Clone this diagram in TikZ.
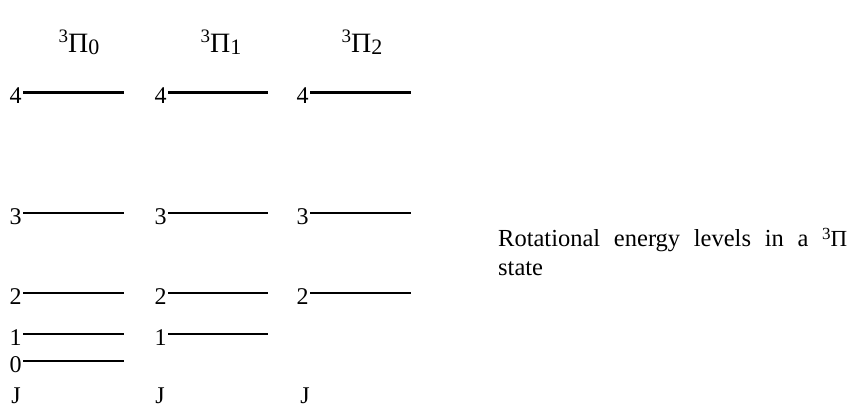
\documentclass[tikz,border=0pt]{standalone}
\usepackage{fontspec}
\setmainfont{Liberation Serif}
\usetikzlibrary{positioning}
\tikzset{
  every node/.style={inner sep=0pt},
  level/.style={line width=2.6bp, draw=black},
  jnum/.style={anchor=base east, yshift=-11bp, font=\fontsize{24bp}{28bp}\selectfont},
  jhead/.style={anchor=base, font=\fontsize{24bp}{28bp}\selectfont},
  omega/.style={anchor=base, font=\fontsize{28bp}{32bp}\selectfont},
  caption/.style={anchor=base west, font=\fontsize{24.5bp}{29bp}\selectfont},
}
\newcommand{\tripi}[1]{\raisebox{10bp}{\fontsize{19bp}{19bp}\selectfont 3}Π\raisebox{-2.5bp}{\fontsize{22bp}{22bp}\selectfont #1}}

\begin{document}
\begin{tikzpicture}[x=1bp, y=-1bp]
  \useasboundingbox (0,0) rectangle (860,405);
  \node[omega] (pi0) at (79,52) {\tripi{0}};
  \node[omega] (pi1) at (221,52) {\tripi{1}};
  \node[omega] (pi2) at (362,52) {\tripi{2}};
  \draw[level] (23,92.5) node[jnum] (a4) {4} -- +(101,0);
  \draw[level] (23,213) node[jnum] (a3) {3} -- +(101,0);
  \draw[level] (23,293) node[jnum] (a2) {2} -- +(101,0);
  \draw[level] (23,334) node[jnum] (a1) {1} -- +(101,0);
  \draw[level] (23,361) node[jnum] (a0) {0} -- +(101,0);
  \draw[level] (168,92.5) node[jnum] (b4) {4} -- +(100,0);
  \draw[level] (168,213) node[jnum] (b3) {3} -- +(100,0);
  \draw[level] (168,293) node[jnum] (b2) {2} -- +(100,0);
  \draw[level] (168,334) node[jnum] (b1) {1} -- +(100,0);
  \draw[level] (310,92.5) node[jnum] (c4) {4} -- +(101,0);
  \draw[level] (310,213) node[jnum] (c3) {3} -- +(101,0);
  \draw[level] (310,293) node[jnum] (c2) {2} -- +(101,0);
  \node[jhead] (ja) at (16,403.5) {J};
  \node[jhead] (jb) at (160,403.5) {J};
  \node[jhead] (jc) at (305,403.5) {J};
  \node[caption] (cap1) at (498,246) {\makebox[349bp][s]{Rotational energy levels in a \raisebox{7bp}{\fontsize{17bp}{17bp}\selectfont 3}{\fontsize{23bp}{23bp}\selectfont Π}}};
  \node[caption] (cap2) at (498,275) {state};
\end{tikzpicture}
\end{document}
